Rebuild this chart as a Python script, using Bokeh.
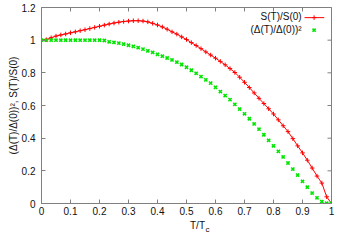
from math import pi
from bokeh.plotting import figure
from bokeh.layouts import column
from bokeh.models import Range1d, FixedTicker, Label, ColumnDataSource
from bokeh.embed import file_html
from bokeh.resources import INLINE

# ---- data ----
t_over_tc = [0.0, 0.0167, 0.0333, 0.05, 0.0667, 0.0833, 0.1, 0.1167, 0.1333, 0.15,
             0.1667, 0.1833, 0.2, 0.2167, 0.2333, 0.25, 0.2667, 0.2833, 0.3, 0.3167,
             0.3333, 0.35, 0.3667, 0.3833, 0.4, 0.4167, 0.4333, 0.45, 0.4667, 0.4833,
             0.5, 0.5167, 0.5333, 0.55, 0.5667, 0.5833, 0.6, 0.6167, 0.6333, 0.65,
             0.6667, 0.6833, 0.7, 0.7167, 0.7333, 0.75, 0.7667, 0.7833, 0.8, 0.8167,
             0.8333, 0.85, 0.8667, 0.8833, 0.9, 0.9167, 0.9333, 0.95, 0.9667, 0.9833, 1.0]

s_ratio = [1.000, 1.003, 1.015, 1.025, 1.032, 1.038, 1.045, 1.051, 1.058, 1.064,
           1.071, 1.078, 1.085, 1.092, 1.099, 1.105, 1.110, 1.114, 1.117, 1.119,
           1.119, 1.117, 1.112, 1.103, 1.093, 1.081, 1.067, 1.051, 1.037, 1.020,
           1.004, 0.985, 0.967, 0.948, 0.928, 0.909, 0.890, 0.870, 0.849, 0.826,
           0.802, 0.773, 0.742, 0.710, 0.677, 0.644, 0.612, 0.580, 0.548, 0.512,
           0.476, 0.440, 0.397, 0.353, 0.310, 0.265, 0.217, 0.168, 0.125, 0.041, 0.000]

gap_sq = [1.000, 1.000, 1.000, 1.000, 1.000, 1.000, 1.000, 1.000, 1.000, 1.000,
          1.000, 1.000, 1.000, 0.998, 0.990, 0.986, 0.982, 0.976, 0.969, 0.962,
          0.954, 0.945, 0.935, 0.925, 0.913, 0.902, 0.891, 0.879, 0.865, 0.851,
          0.834, 0.816, 0.797, 0.777, 0.757, 0.737, 0.711, 0.685, 0.661, 0.636,
          0.607, 0.578, 0.549, 0.519, 0.487, 0.455, 0.421, 0.387, 0.353, 0.319,
          0.285, 0.248, 0.211, 0.174, 0.136, 0.100, 0.064, 0.035, 0.012, 0.002, 0.000]

x_ticks = [0, 0.1, 0.2, 0.3, 0.4, 0.5, 0.6, 0.7, 0.8, 0.9, 1]
x_tick_labels = ["0", "0.1", "0.2", "0.3", "0.4", "0.5", "0.6", "0.7", "0.8", "0.9", "1"]
y_ticks = [0, 0.2, 0.4, 0.6, 0.8, 1, 1.2]
y_tick_labels = ["0", "0.2", "0.4", "0.6", "0.8", "1", "1.2"]

series_names = ["S(T)/S(0)", "(\u0394(T)/\u0394(0))\u00b2"]
y_axis_title = "(\u0394(T)/\u0394(0))\u00b2, S(T)/S(0)"
x_axis_title = ["T/T", "c"]

X_MIN, X_MAX = 0, 1
Y_MIN, Y_MAX = 0, 1.2

FONT = "Liberation Sans"
FRAME = "#808080"
TEXT = "#111111"
RED = "#ff0000"
GREEN = "#00e600"

W = 337
src = ColumnDataSource(dict(t=t_over_tc, s=s_ratio, g=gap_sq))

p = figure(width=W, height=219, output_backend="svg", toolbar_location=None,
           x_range=Range1d(X_MIN, X_MAX), y_range=Range1d(Y_MIN, Y_MAX),
           min_border_left=41, min_border_right=6, min_border_top=7, min_border_bottom=16)
p.grid.visible = False
p.outline_line_color = FRAME
p.background_fill_color = "white"
p.border_fill_color = "white"

def style_axis(ax, ticks, labels):
    ax.ticker = FixedTicker(ticks=ticks)
    ax.major_label_overrides = {t: l for t, l in zip(ticks, labels)}
    ax.minor_tick_line_color = None
    ax.major_tick_in = 4
    ax.major_tick_out = 0
    ax.major_tick_line_color = FRAME
    ax.axis_line_color = FRAME
    ax.major_label_text_font = FONT
    ax.major_label_text_font_size = "10px"
    ax.major_label_text_color = TEXT

style_axis(p.xaxis[0], x_ticks, x_tick_labels)
style_axis(p.yaxis[0], y_ticks, y_tick_labels)
p.xaxis[0].major_label_standoff = 3
p.yaxis[0].major_label_standoff = 6
p.yaxis[0].axis_label = y_axis_title
p.yaxis[0].axis_label_text_font = FONT
p.yaxis[0].axis_label_text_font_size = "10px"
p.yaxis[0].axis_label_text_font_style = "normal"
p.yaxis[0].axis_label_text_color = TEXT
p.yaxis[0].axis_label_standoff = 0

# mirrored inward ticks on top and right edges (outer half clipped by the frame)
p.scatter(x=x_ticks, y=[Y_MAX] * len(x_ticks), marker="dash", angle=pi / 2, size=8,
          line_color=FRAME, line_width=1)
p.scatter(x=[X_MAX] * len(y_ticks), y=y_ticks, marker="dash", size=8,
          line_color=FRAME, line_width=1)

# data
p.line("t", "s", source=src, line_color=RED, line_width=1)
p.scatter("t", "s", source=src, marker="cross", size=4.5, line_color=RED, line_width=1)
p.scatter("t", "g", source=src, marker="x", size=4.5, line_color=GREEN, line_width=1.6)

# legend (gnuplot style: text right-aligned, sample to the right)
p.add_layout(Label(x=0.897, y=1.147, text=series_names[0], text_align="right",
                   text_baseline="middle", text_font=FONT, text_font_size="10px",
                   text_color=TEXT))
p.add_layout(Label(x=0.897, y=1.063, text=series_names[1], text_align="right",
                   text_baseline="middle", text_font=FONT, text_font_size="10px",
                   text_color=TEXT))
leg = ColumnDataSource(dict(x=[0.907, 0.975], y=[1.138, 1.138]))
p.line("x", "y", source=leg, line_color=RED, line_width=1)
p.scatter(x=[0.94], y=[1.138], marker="cross", size=4.5, line_color=RED, line_width=1)
p.scatter(x=[0.94], y=[1.061], marker="x", size=4.5, line_color=GREEN, line_width=1.6)

# x axis title T/T_c (subscript c) in a thin strip under the plot
t = figure(width=W, height=14, output_backend="svg", toolbar_location=None,
           x_range=Range1d(0, W), y_range=Range1d(0, 14),
           min_border=0, outline_line_color=None)
t.axis.visible = False
t.grid.visible = False
t.border_fill_color = "white"
t.background_fill_color = "white"
t.add_layout(Label(x=190, y=8, text=x_axis_title[0], text_align="right",
                   text_baseline="middle", text_font=FONT, text_font_size="10px",
                   text_color=TEXT))
t.add_layout(Label(x=190.5, y=4.5, text=x_axis_title[1], text_align="left",
                   text_baseline="middle", text_font=FONT, text_font_size="8px",
                   text_color=TEXT))

layout = column(p, t, spacing=0)
open("out.html", "w").write(file_html(layout, INLINE))
